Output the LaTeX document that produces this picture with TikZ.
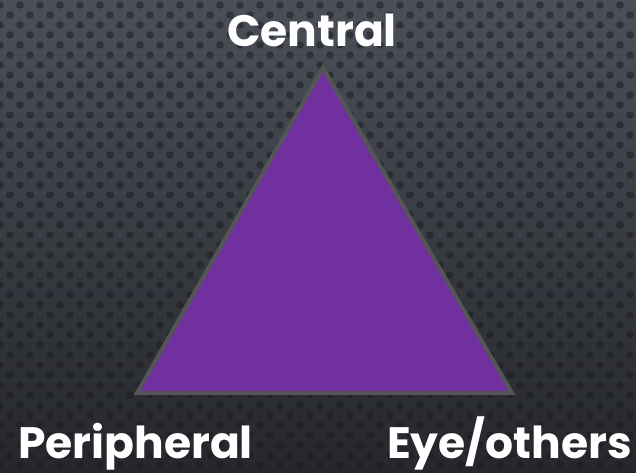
\documentclass[tikz,border=0pt]{standalone}
\usepackage{fontspec}
\setmainfont{Poppins}
\usepackage{xcolor}
\usetikzlibrary{calc}
\definecolor{bgtop}{HTML}{4B4F58}
\definecolor{bgbottom}{HTML}{25272C}
\definecolor{dotcol}{HTML}{1B1D22}
\definecolor{trifill}{HTML}{7030A0}
\definecolor{triedge}{HTML}{555555}

\tikzset{
  cornerlabel/.style={text=white, font=\bfseries\fontsize{44}{50}\selectfont, inner sep=0pt}
}

\begin{document}
\begin{tikzpicture}[x=1pt,y=1pt]
    % Background
    \shade[top color=bgtop, bottom color=bgbottom] (0,0) rectangle (636,472);
    \useasboundingbox (0,0) rectangle (636,472);
    % Dot texture
    \foreach \j in {0,...,47} {
      \pgfmathsetmacro{\off}{mod(\j,2)*10}
      \foreach \i in {0,...,32} {
        \fill[dotcol, opacity=0.55] (\i*20+\off, 472-\j*10-5) circle (3.8);
      }
    }
    % Triangle
    \coordinate (top) at (323,404);
    \coordinate (left) at (137,79);
    \coordinate (right) at (512,79);
    \draw[triedge, line width=4pt, line join=miter, fill=trifill] (top) -- (left) -- (right) -- cycle;
    % Labels
    \node[cornerlabel, anchor=base] (central) at (312,425) {Central};
    \node[cornerlabel, anchor=base west] (peripheral) at (18,14) {Peripheral};
    \node[cornerlabel, anchor=base east] (eye) at (632,14) {Eye/others};
\end{tikzpicture}
\end{document}
